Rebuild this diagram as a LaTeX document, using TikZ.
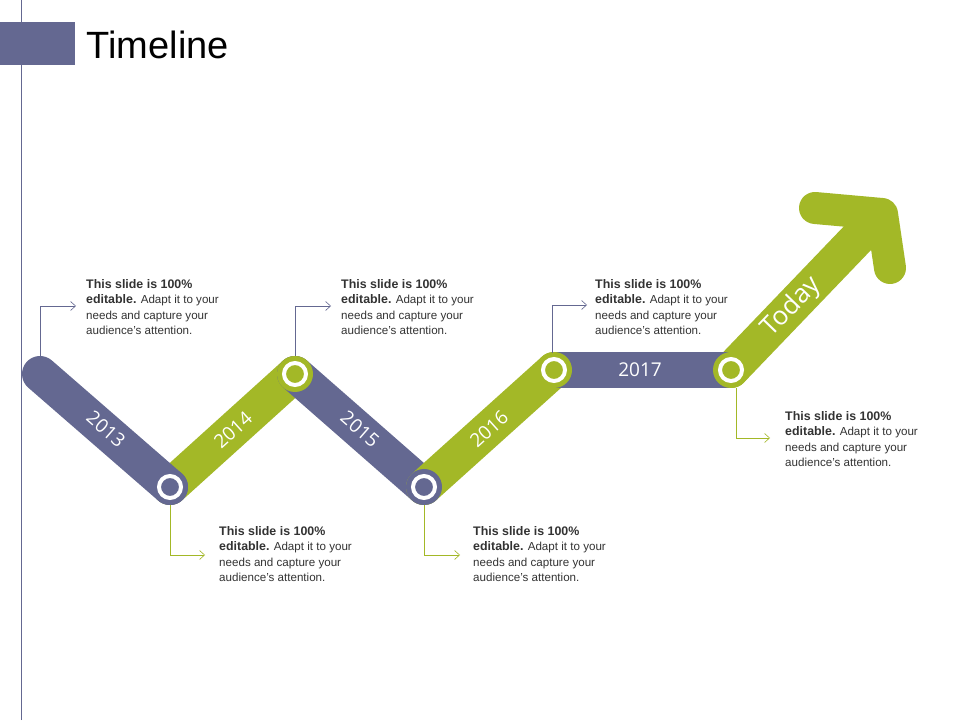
\documentclass[tikz,border=0pt]{standalone}
\usepackage{fontspec}
\setmainfont{Liberation Sans}
\newfontfamily\yrfont{Open Sans}
\usetikzlibrary{arrows.meta}
\definecolor{pur}{HTML}{646891}
\definecolor{grn}{HTML}{A3B827}
\begin{document}
\begin{tikzpicture}[x=1pt,y=1pt,
  band/.style={line width=36pt,line cap=round},
  ring/.style={draw=white,line width=4pt},
  yr/.style={text=white,font=\yrfont\fontsize{19}{19}\selectfont},
  desc/.style={anchor=north west,align=left,inner sep=0pt,text=black!80,font=\fontsize{11.6}{15.5}\selectfont},
  call/.style={line width=0.6pt,-{Straight Barb[length=5pt,width=9pt]}}]
\useasboundingbox (0,0) rectangle (960,720);
\fill[white] (0,0) rectangle (960,720);
% header
\fill[pur] (0,655) rectangle (75,698);
\draw[pur,line width=1pt] (21,0) -- (21,720);
\node[anchor=west,font=\fontsize{38}{38}\selectfont] (title) at (83,675) {Timeline};
% points
\coordinate (A) at (40,346);
\coordinate (B) at (170,233);
\coordinate (C) at (295,346);
\coordinate (D) at (424,233);
\coordinate (E) at (554,350);
\coordinate (F) at (731,350);
\coordinate (T) at (872,497);
\coordinate (L) at (815,512);
\coordinate (K) at (882,506);
\coordinate (R) at (890,452);
% bands
\draw[band,grn] (B) -- (C);
\draw[band,pur] (A) -- (B);
\draw[band,pur] (C) -- (D);
\draw[band,grn] (D) -- (E);
\draw[band,grn] (F) -- (T);
\draw[grn,line width=32pt,line cap=round,line join=round] (L) -- (K) -- (R);
\draw[pur,line width=36pt] (E) -- (F);
% joint discs
\fill[pur] (B) circle (18);
\fill[grn] (C) circle (18);
\fill[pur] (D) circle (18);
\fill[grn] (E) circle (18);
\fill[grn] (F) circle (18);
\draw[ring,fill=pur] (B) circle (11);
\draw[ring,fill=grn] (C) circle (11);
\draw[ring,fill=pur] (D) circle (11);
\draw[ring,fill=grn] (E) circle (11);
\draw[ring,fill=grn] (F) circle (11);
% year labels
\node[yr,rotate=-41] (y13) at (106,291) {2013};
\node[yr,rotate=42] (y14) at (233,290) {2014};
\node[yr,rotate=-41] (y15) at (360,291) {2015};
\node[yr,rotate=42] (y16) at (489,291) {2016};
\node[yr] (y17) at (640,350) {2017};
\node[yr,rotate=46,font=\yrfont\fontsize{26}{26}\selectfont] (tod) at (792,413) {Today};
% descriptions
\newcommand{\descbody}{\textbf{\fontsize{12.4}{15.5}\selectfont This slide is 100\%}\\\textbf{\fontsize{12.4}{15.5}\selectfont editable.} Adapt it to your\\needs and capture your\\audience's attention.}
\node[desc] (t1) at (86,441) {\descbody};
\node[desc] (t2) at (341,441) {\descbody};
\node[desc] (t3) at (595,441) {\descbody};
\node[desc] (t4) at (219,194) {\descbody};
\node[desc] (t5) at (473,194) {\descbody};
\node[desc] (t6) at (785,309) {\descbody};
% callouts
\coordinate (c1) at (40,364); \coordinate (c2) at (295,364); \coordinate (c3) at (552,367);
\coordinate (c4) at (170,215); \coordinate (c5) at (424,215); \coordinate (c6) at (736,332);
\draw[call,pur] (c1) |- ([xshift=-10pt]t1.west |- 0,414);
\draw[call,pur] (c2) |- ([xshift=-10pt]t2.west |- 0,414);
\draw[call,pur] (c3) |- ([xshift=-8pt]t3.west |- 0,415);
\draw[call,grn] (c4) |- ([xshift=-14pt]t4.west |- 0,165);
\draw[call,grn] (c5) |- ([xshift=-13pt]t5.west |- 0,165);
\draw[call,grn] (c6) |- ([xshift=-15pt]t6.west |- 0,282);
\end{tikzpicture}
\end{document}
